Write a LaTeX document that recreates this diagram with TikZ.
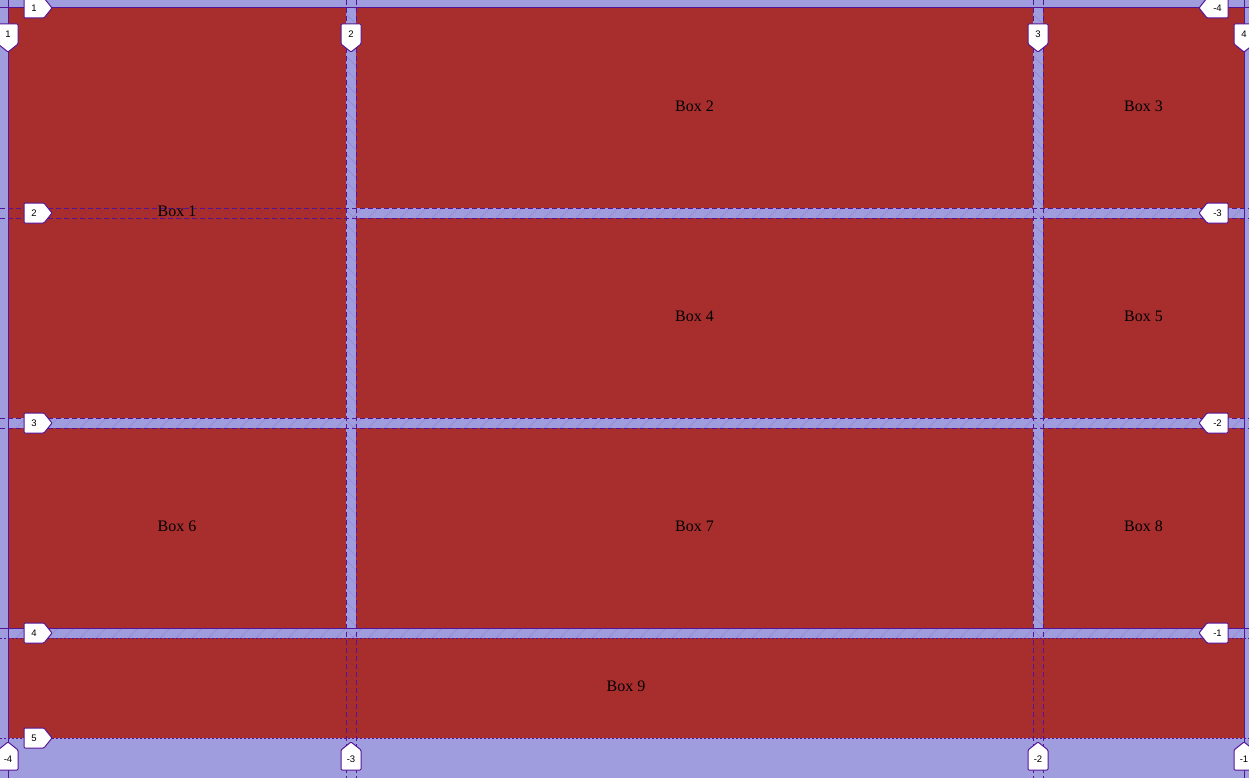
\documentclass[tikz,border=0pt]{standalone}
\usepackage{fontspec}
\setmainfont{Liberation Serif}
\newfontfamily\labfont{Liberation Sans}
\definecolor{bgl}{RGB}{160,157,222}
\definecolor{boxred}{RGB}{168,46,46}
\definecolor{gl}{RGB}{85,20,150}
\tikzset{
 boxnode/.style={fill=boxred, draw=none, inner sep=0pt, outer sep=0pt},
 boxlabel/.style={inner sep=0pt, font=\fontsize{16}{16}\selectfont, text=black},
 solidline/.style={draw=gl, line width=1pt},
 dashline/.style={draw=gl, line width=0.9pt, dash pattern=on 5pt off 3pt},
 dotline/.style={draw=gl, line width=0.8pt, dash pattern=on 2pt off 2pt},
 hatch/.style={draw=gl, draw opacity=0.15, line width=0.7pt},
 badge/.style={fill=white, draw=gl, line width=1pt, rounded corners=1pt},
 badgetext/.style={font=\labfont\fontsize{9.5}{9.5}\selectfont, inner sep=0pt, text=black},
}
\newcommand\badgeRight[3]{%
 \draw[badge] (24,#2-10) -- (44,#2-10) -- (52,#2) -- (44,#2+10) -- (24,#2+10) -- cycle;
 \node[badgetext] (#1) at (34,#2) {#3};}
\newcommand\badgeLeft[3]{%
 \draw[badge] (1199,#2) -- (1207,#2-10) -- (1228,#2-10) -- (1228,#2+10) -- (1207,#2+10) -- cycle;
 \node[badgetext] (#1) at (1217.5,#2) {#3};}
\newcommand\badgeDown[3]{%
 \draw[badge] (#2-10,24) -- (#2+10,24) -- (#2+10,44) -- (#2,52) -- (#2-10,44) -- cycle;
 \node[badgetext] (#1) at (#2,34) {#3};}
\newcommand\badgeUp[3]{%
 \draw[badge] (#2,742) -- (#2+10,750) -- (#2+10,770) -- (#2-10,770) -- (#2-10,750) -- cycle;
 \node[badgetext] (#1) at (#2,759) {#3};}
\begin{document}
\begin{tikzpicture}[x=1pt,y=-1pt]
\useasboundingbox (0,0) rectangle (1249,778);
\clip (0,0) rectangle (1249,778);
\fill[bgl] (0,0) rectangle (1249,778);
% boxes
\node[boxnode, minimum width=338pt, minimum height=410pt] (b1) at (177,213) {};
\node[boxnode, minimum width=677pt, minimum height=200pt] (b2) at (694.5,108) {};
\node[boxnode, minimum width=201pt, minimum height=200pt] (b3) at (1143.5,108) {};
\node[boxnode, minimum width=677pt, minimum height=200pt] (b4) at (694.5,318) {};
\node[boxnode, minimum width=201pt, minimum height=200pt] (b5) at (1143.5,318) {};
\node[boxnode, minimum width=338pt, minimum height=200pt] (b6) at (177,528) {};
\node[boxnode, minimum width=677pt, minimum height=200pt] (b7) at (694.5,528) {};
\node[boxnode, minimum width=201pt, minimum height=200pt] (b8) at (1143.5,528) {};
\node[boxnode, minimum width=1236pt, minimum height=100pt] (b9) at (626,688) {};
% hatching of gaps
\foreach \gy in {208,418,628}{
 \begin{scope}
 \clip (8,\gy) rectangle (1244,\gy+10);
 \foreach \i in {0,16,...,1260} \draw[hatch] (\i,\gy+10) -- (\i+10,\gy);
 \end{scope}}
\foreach \gx in {346,1033}{
 \begin{scope}
 \clip (\gx,8) rectangle (\gx+10,738);
 \foreach \j in {0,14,...,740} \draw[hatch] (\gx,\j) -- (\gx+10,\j+10);
 \end{scope}}
% grid lines
\draw[solidline] (8,0) -- (8,778);
\draw[solidline] (1244,0) -- (1244,778);
\draw[solidline] (0,8) -- (1249,8);
\draw[solidline] (0,628) -- (1249,628);
\foreach \lx in {346,356,1033,1043} \draw[dashline] (\lx,0) -- (\lx,778);
\foreach \ly in {208,218,418,428} \draw[dashline] (0,\ly) -- (1249,\ly);
\draw[dotline] (0,638) -- (1249,638);
\draw[dotline] (0,738) -- (1249,738);
% box texts
\node[boxlabel] (t1) at (177,211.5) {Box 1};
\node[boxlabel] (t2) at (694.5,106.5) {Box 2};
\node[boxlabel] (t3) at (1143.5,106.5) {Box 3};
\node[boxlabel] (t4) at (694.5,316.5) {Box 4};
\node[boxlabel] (t5) at (1143.5,316.5) {Box 5};
\node[boxlabel] (t6) at (177,526.5) {Box 6};
\node[boxlabel] (t7) at (694.5,526.5) {Box 7};
\node[boxlabel] (t8) at (1143.5,526.5) {Box 8};
\node[boxlabel] (t9) at (626,686.5) {Box 9};
% line number badges
\badgeRight{r1}{8}{1}
\badgeRight{r2}{213}{2}
\badgeRight{r3}{423}{3}
\badgeRight{r4}{633}{4}
\badgeRight{r5}{738}{5}
\badgeLeft{rn4}{8}{-4}
\badgeLeft{rn3}{213}{-3}
\badgeLeft{rn2}{423}{-2}
\badgeLeft{rn1}{633}{-1}
\badgeDown{c1}{8}{1}
\badgeDown{c2}{351}{2}
\badgeDown{c3}{1038}{3}
\badgeDown{c4}{1244}{4}
\badgeUp{cn4}{8}{-4}
\badgeUp{cn3}{351}{-3}
\badgeUp{cn2}{1038}{-2}
\badgeUp{cn1}{1244}{-1}
\end{tikzpicture}
\end{document}
